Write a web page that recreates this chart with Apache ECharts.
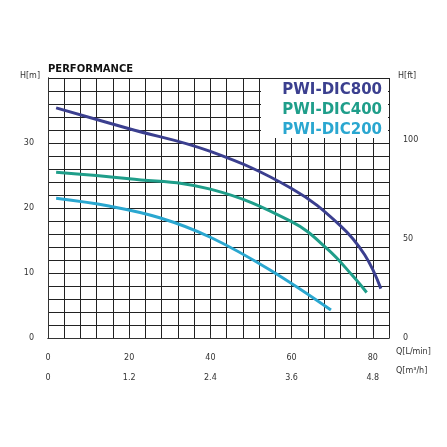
<!DOCTYPE html><html><head><meta charset="utf-8"><script src="https://cdn.jsdelivr.net/npm/echarts@6/dist/echarts.min.js"></script></head><body style="margin:0;background:#fff"><div id="c" style="width:447px;height:447px"></div><script>
const names=['PWI-DIC800','PWI-DIC400','PWI-DIC200'];
const colors=['#3b3f8f','#1f9e8a','#2aa7d0'];
const dic800=[[2,35.4],[20,32.2],[40,28.7],[60,23],[72,17.3],[78,12.8],[82,7.6]];
const dic400=[[2,25.5],[20,24.5],[40,22.9],[60,17.9],[69,13.6],[75,9.6],[78.5,7]];
const dic200=[[2,21.5],[15,20.3],[27.5,18.5],[40,15.5],[54.6,10.5],[69.7,4.3]];
const qTicks=[0,20,40,60,80], mTicks=[0,1.2,2.4,3.6,4.8];
const ch=echarts.init(document.getElementById('c'));
const lab={fontFamily:'DejaVu Sans',fontSize:8,color:'#333'};
const t=(x,y,s,al)=>({type:'text',x:x,y:y,z:10,style:{text:s,font:'8px DejaVu Sans',fill:'#333',textAlign:al||'left',textVerticalAlign:'middle'}});
ch.setOption({animation:false,
grid:{left:48,right:58,top:78,bottom:109},
graphic:[
{type:'text',left:48,top:64,style:{text:'PERFORMANCE',font:'bold 10px DejaVu Sans',fill:'#111'}},
{type:'rect',z:5,shape:{x:261,y:79,width:127,height:59},style:{fill:'#fff'}},
...names.map((n,i)=>({type:'text',z:10,x:382,y:83+i*20,style:{text:n,font:'bold 15px DejaVu Sans',fill:colors[i],textAlign:'right'}})),
t(40,76,'H[m]','right'),t(398,76,'H[ft]'),t(396,352,'Q[L/min]'),t(396,371,'Q[m³/h]')],
xAxis:[{type:'value',min:0,max:84,interval:4,position:'bottom',offset:8,
 axisLine:{show:true,lineStyle:{color:'#333'}},axisTick:{show:false},
 axisLabel:{...lab,formatter:v=>qTicks.includes(v)?v:''},
 splitLine:{lineStyle:{color:'#222',width:1}}},
{type:'value',min:0,max:5.04,interval:1.2,position:'bottom',offset:28,
 axisLine:{show:true,lineStyle:{color:'#333'}},axisTick:{show:true,length:3,inside:true},
 axisLabel:{...lab,formatter:v=>mTicks.some(t=>Math.abs(t-v)<1e-6)?String(v):''},
 splitLine:{show:false}}],
yAxis:[{type:'value',min:0,max:40,interval:2,offset:6,
 axisLine:{show:true,lineStyle:{color:'#333'}},axisTick:{show:false},
 axisLabel:{...lab,formatter:v=>v%10===0&&v<40?v:''},
 splitLine:{lineStyle:{color:'#222',width:1}}},
{type:'value',min:0,max:131.2,interval:50,offset:6,position:'right',
 axisLine:{show:true,lineStyle:{color:'#333'}},axisTick:{show:false},
 axisLabel:{...lab,formatter:v=>v%50===0?v:''},splitLine:{show:false}}],
series:[dic800,dic400,dic200].map((d,i)=>({type:'line',data:d,smooth:0.4,symbol:'none',z:3,
 lineStyle:{color:colors[i],width:3},xAxisIndex:0,yAxisIndex:0}))
});
</script></body></html>
